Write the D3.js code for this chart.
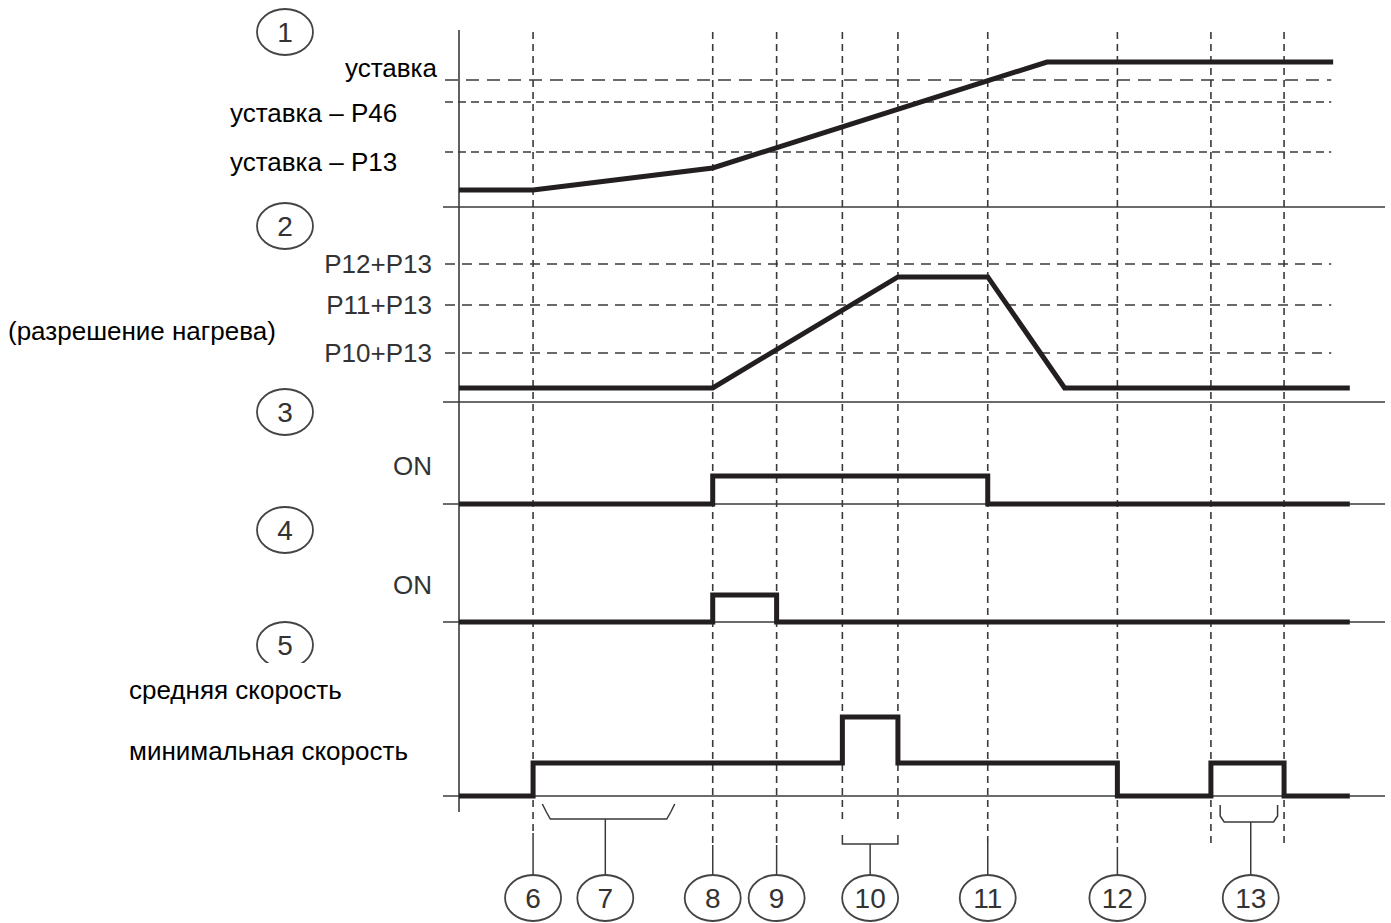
<!DOCTYPE html>
<html>
<head>
<meta charset="utf-8">
<script src="https://d3js.org/d3.v7.min.js"></script>
<style>
  body { margin: 0; background: #fff; }
  svg { display: block; }
</style>
</head>
<body>
<svg id="chart" width="1391" height="923"></svg>
<script>
// time axis runs 0..100 (arbitrary units), events
const eventIds   = ['6', '8', '9', '10a', '10b', '11', '12', '13a', '13b'];
const eventTimes = [8.0, 27.4, 34.3, 41.4, 47.4, 57.1, 71.1, 81.2, 89.1];

// panel 1: room temperature vs set point
const tempLevels = ['уставка', 'уставка – P46', 'уставка – P13'];
const tempLevelValues = [76, 62.9, 32.9];
const tempTrace = [[0, 10.2], [8.0, 10.2], [27.4, 23.4], [63.5, 86.8], [94.4, 86.8]];

// panel 2: heating enable
const heatLevels = ['P12+P13', 'P11+P13', 'P10+P13'];
const heatLevelValues = [74.6, 52.4, 26.5];
const heatTrace = [[0, 7.6], [27.4, 7.6], [47.4, 67.6], [57.1, 67.6], [65.4, 7.6], [96.2, 7.6]];

// panels 3 and 4: on/off (step after)
const relay3 = [[0, 0], [27.4, 1], [57.1, 0], [96.2, 0]];
const relay4 = [[0, 0], [27.4, 1], [34.3, 0], [96.2, 0]];

// panel 5: fan speed (0 off, 34.4 min, 82.3 mid)
const speedLevels = ['средняя скорость', 'минимальная скорость'];
const speedTrace = [[0, 0], [8.0, 34.4], [41.4, 82.3], [47.4, 34.4], [71.1, 0], [81.2, 34.4], [89.1, 0], [96.2, 0]];

// bottom call-outs
const calloutLabels = ['6', '7', '8', '9', '10', '11', '12', '13'];
const calloutTimes  = [8.0, 15.8, 27.4, 34.3, 44.4, 57.1, 71.1, 85.5];
const bracket7  = [9.0, 23.3];
const bracket10 = [41.4, 47.4];
const bracket13 = [82.2, 88.4];

const svg = d3.select('#chart');
const ink = '#231f20';
const thin = '#3a3a3a';
const sans = 'Liberation Sans, Arial, sans-serif';

const x = d3.scaleLinear().domain([0, 100]).range([459, 1385]);

const panels = [
  { n: '1', base: 207, y: d3.scaleLinear().domain([0, 100]).range([207, 40]), cy: 32 },
  { n: '2', base: 402, y: d3.scaleLinear().domain([0, 100]).range([402, 217]), cy: 226 },
  { n: '3', base: 504, y: d3.scaleLinear().domain([0, 1]).range([504, 476]), cy: 412 },
  { n: '4', base: 622, y: d3.scaleLinear().domain([0, 1]).range([622, 595]), cy: 530 },
  { n: '5', base: 796, y: d3.scaleLinear().domain([0, 100]).range([796, 700]), cy: 645 }
];

// vertical event lines (dashed)
const evBottom = { '6': 833, '8': 845, '9': 845, '10a': 822, '10b': 822, '11': 843, '12': 847, '13a': 843, '13b': 843 };
svg.append('g').selectAll('line')
  .data(eventIds)
  .join('line')
  .attr('x1', (d, i) => x(eventTimes[i]))
  .attr('x2', (d, i) => x(eventTimes[i]))
  .attr('y1', 32)
  .attr('y2', d => evBottom[d])
  .attr('stroke', thin)
  .attr('stroke-width', 1.6)
  .attr('stroke-dasharray', '7,5');

// main vertical axis
svg.append('line')
  .attr('x1', x(0)).attr('x2', x(0))
  .attr('y1', 30).attr('y2', 812)
  .attr('stroke', thin).attr('stroke-width', 1.6);

// panel base lines
svg.append('g').selectAll('line')
  .data(panels)
  .join('line')
  .attr('x1', 443).attr('x2', 1385)
  .attr('y1', d => d.base).attr('y2', d => d.base)
  .attr('stroke', thin).attr('stroke-width', 1.4);

// level dashed lines panel 1 & 2
const p1 = panels[0], p2 = panels[1];
svg.append('g').selectAll('line')
  .data(tempLevelValues)
  .join('line')
  .attr('x1', 445).attr('x2', x(94.2))
  .attr('y1', d => p1.y(d)).attr('y2', d => p1.y(d))
  .attr('stroke', thin).attr('stroke-width', 1.5)
  .attr('stroke-dasharray', (d, i) => i === 0 ? '13,8' : '8,5');

svg.append('g').selectAll('line')
  .data(heatLevelValues)
  .join('line')
  .attr('x1', 445).attr('x2', x(94.2))
  .attr('y1', d => p2.y(d)).attr('y2', d => p2.y(d))
  .attr('stroke', thin).attr('stroke-width', 1.5)
  .attr('stroke-dasharray', '10,7');

// traces
function trace(data, panel, curve) {
  const line = d3.line()
    .x(d => x(d[0]))
    .y(d => panel.y(d[1]))
    .curve(curve);
  svg.append('path')
    .attr('d', line(data))
    .attr('fill', 'none')
    .attr('stroke', ink)
    .attr('stroke-width', 5)
    .attr('stroke-linejoin', 'miter');
}
trace(tempTrace, panels[0], d3.curveLinear);
trace(heatTrace, panels[1], d3.curveLinear);
trace(relay3, panels[2], d3.curveStepAfter);
trace(relay4, panels[3], d3.curveStepAfter);
trace(speedTrace, panels[4], d3.curveStepAfter);

// panel number circles on the left
const panelNum = svg.append('g').selectAll('g')
  .data(panels)
  .join('g')
  .attr('transform', d => `translate(285,${d.cy})`);
panelNum.append('ellipse')
  .attr('rx', 28).attr('ry', 23)
  .attr('fill', 'none').attr('stroke', '#444').attr('stroke-width', 1.8);
panelNum.append('text')
  .attr('text-anchor', 'middle').attr('dy', 10)
  .attr('font-family', sans)
  .attr('font-size', 28).attr('fill', '#333')
  .text(d => d.n);

// white box behind the speed labels, it cuts circle 5 like the original
svg.append('rect')
  .attr('x', 120).attr('y', 663).attr('width', 315).attr('height', 120)
  .attr('fill', '#fff');

// panel 1 labels
const tempLabelPos = [[345, 77], [230, 122], [230, 171]];
svg.append('g').selectAll('text')
  .data(tempLevels)
  .join('text')
  .attr('x', (d, i) => tempLabelPos[i][0])
  .attr('y', (d, i) => tempLabelPos[i][1])
  .attr('font-family', sans).attr('font-size', 26).attr('fill', '#000')
  .text(d => d);

// panel 2 labels
svg.append('g').selectAll('text')
  .data(heatLevels)
  .join('text')
  .attr('x', 432)
  .attr('y', (d, i) => p2.y(heatLevelValues[i]) + 9)
  .attr('text-anchor', 'end')
  .attr('font-family', sans).attr('font-size', 26).attr('fill', '#333')
  .text(d => d);

svg.append('text')
  .attr('x', 8).attr('y', 340)
  .attr('font-family', sans).attr('font-size', 26).attr('fill', '#000')
  .text('(разрешение нагрева)');

// ON labels
svg.append('g').selectAll('text')
  .data([panels[2], panels[3]])
  .join('text')
  .attr('x', 432)
  .attr('y', d => d.y(1) - 1)
  .attr('text-anchor', 'end')
  .attr('font-family', sans).attr('font-size', 26).attr('fill', '#333')
  .text('ON');

// speed labels
const speedLabelY = [699, 760];
svg.append('g').selectAll('text')
  .data(speedLevels)
  .join('text')
  .attr('x', 129)
  .attr('y', (d, i) => speedLabelY[i])
  .attr('font-family', sans).attr('font-size', 26).attr('fill', '#000')
  .text(d => d);

// brackets
const bx = svg.append('g').attr('fill', 'none').attr('stroke', thin).attr('stroke-width', 1.5);
// 7: soft bracket
bx.append('path').attr('d',
  `M${x(bracket7[0])},804 L${x(bracket7[0]) + 4},812 L${x(bracket7[0]) + 8},819 L${x(bracket7[1]) - 8},819 L${x(bracket7[1]) - 4},812 L${x(bracket7[1])},804`);
bx.append('line').attr('x1', x(calloutTimes[1])).attr('x2', x(calloutTimes[1])).attr('y1', 819).attr('y2', 875);
// 10: square bracket
bx.append('path').attr('d',
  `M${x(bracket10[0])},835 L${x(bracket10[0])},844 L${x(bracket10[1])},844 L${x(bracket10[1])},835`);
bx.append('line').attr('x1', x(calloutTimes[4])).attr('x2', x(calloutTimes[4])).attr('y1', 844).attr('y2', 875);
// 13: small soft bracket
bx.append('path').attr('d',
  `M${x(bracket13[0])},805 L${x(bracket13[0])},816 L${x(bracket13[0]) + 4},822 L${x(bracket13[1]) - 4},822 L${x(bracket13[1])},816 L${x(bracket13[1])},805`);
bx.append('line').attr('x1', x(calloutTimes[7])).attr('x2', x(calloutTimes[7])).attr('y1', 822).attr('y2', 875);

// solid leaders for single event call-outs
const leaders = ['6', '8', '9', '11', '12'];
bx.selectAll('line.leader')
  .data(leaders)
  .join('line')
  .attr('class', 'leader')
  .attr('x1', d => x(eventTimes[eventIds.indexOf(d)]))
  .attr('x2', d => x(eventTimes[eventIds.indexOf(d)]))
  .attr('y1', d => evBottom[d])
  .attr('y2', 875);

// bottom call-out circles
const callout = svg.append('g').selectAll('g')
  .data(calloutLabels)
  .join('g')
  .attr('transform', (d, i) => `translate(${x(calloutTimes[i])},898)`);
callout.append('ellipse')
  .attr('rx', 28).attr('ry', 23)
  .attr('fill', '#fff').attr('stroke', '#444').attr('stroke-width', 1.8);
callout.append('text')
  .attr('text-anchor', 'middle').attr('dy', 10)
  .attr('font-family', sans)
  .attr('font-size', 28).attr('fill', '#333')
  .text(d => d);
</script>
</body>
</html>
